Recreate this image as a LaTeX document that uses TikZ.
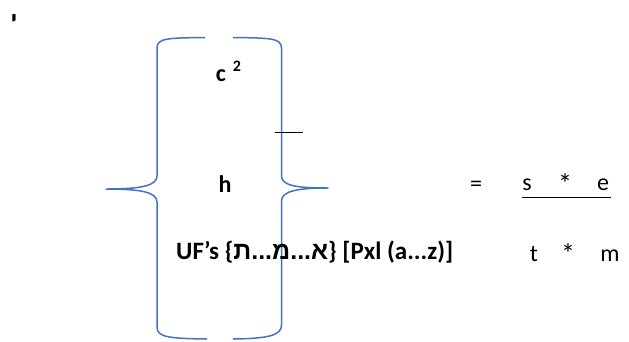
\documentclass[tikz,border=0pt]{standalone}
\usepackage{fontspec}
\setmainfont{Carlito}
\newfontfamily\hebfont[Script=Hebrew]{Liberation Sans}
\newfontfamily\yodfont[Script=Hebrew]{DejaVu Sans}
\TeXXeTstate=1
\begin{document}
\begin{tikzpicture}[x=1pt,y=-1pt,
  brace/.style={draw={rgb,255:red,68;green,114;blue,196},line width=1.5pt,line join=round},
  txt/.style={inner sep=0pt,font=\fontsize{24}{28}\selectfont},
  bld/.style={txt,font=\fontsize{24}{28}\selectfont\bfseries}]
\useasboundingbox (0,0) rectangle (629,341);
% left brace
\path[brace] (205,37.5) .. controls (168,38) and (157,38) .. (157,48)
  -- (157,176) .. controls (157,186) and (140,189) .. (106,189)
  .. controls (140,189) and (157,192) .. (157,202)
  -- (157,327) .. controls (157,337) and (168,338.5) .. (207,339);
% right brace
\path[brace] (233,37.5) .. controls (270,38) and (281.5,38) .. (281.5,48)
  -- (281.5,176) .. controls (281.5,186) and (298,188) .. (328,188)
  .. controls (298,188) and (281.5,191) .. (281.5,201)
  -- (281.5,325) .. controls (281.5,335) and (270,338.5) .. (233,339);
% small rule
\coordinate (r1) at (275,132);
\coordinate (r2) at (303,132);
\draw[line width=1pt] (r1) -- (r2);
% texts
\node[txt,font=\fontsize{20}{22}\selectfont\yodfont\bfseries] (yod) at (14,20) {\beginR י\endR};
\node[bld] (c) at (221,76) {c};
\node[bld,font=\fontsize{16}{18}\selectfont\bfseries] (two) at (237,66) {2};
\node[bld] (h) at (225,184) {h};
\node[bld,anchor=west,font=\fontsize{25}{28}\selectfont\bfseries] (uf) at (176,252) {UF's \{{\hebfont\bfseries\beginR א...מ...ת\endR}\} [Pxl (a...z)]};
\node[txt] (eq) at (476,186) {=};
\node[txt] (s) at (527,185) {s};
\node[txt,font=\fontsize{28}{30}\selectfont] (st1) at (565,184) {*};
\node[txt] (e) at (603,185) {e};
\coordinate (u1) at (522,197);
\coordinate (u2) at (611,197);
\draw[line width=1pt] (u1) -- (u2);
\node[txt] (t) at (534,254) {t};
\node[txt,font=\fontsize{28}{30}\selectfont] (st2) at (568,254) {*};
\node[txt] (m) at (610,256) {m};
\end{tikzpicture}
\end{document}
